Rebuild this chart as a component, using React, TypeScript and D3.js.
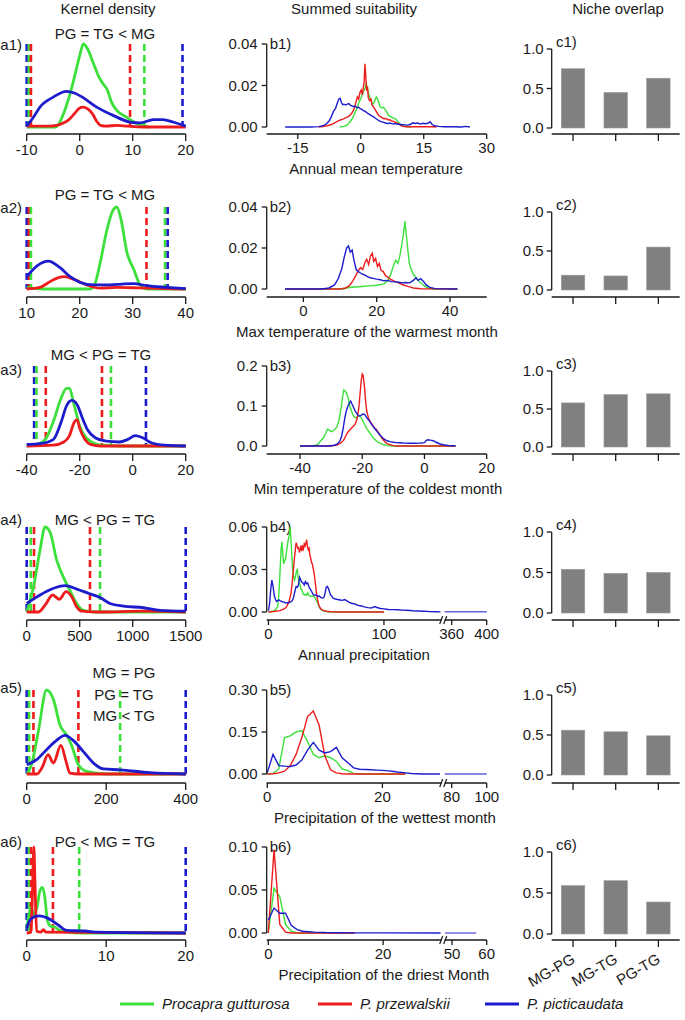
import React from "react";
import * as d3 from "d3";

type Pt = [number, number];

// ---------- labels ----------
const columnTitles = ["Kernel density", "Summed suitability", "Niche overlap"];
const speciesNames = ["Procapra gutturosa", "P. przewalskii", "P. picticaudata"];
const pairLabels = ["MG-PG", "MG-TG", "PG-TG"];
const variableNames = [
  "Annual mean temperature",
  "Max temperature of the warmest month",
  "Min temperature of the coldest month",
  "Annual precipitation",
  "Precipitation of the wettest month",
  "Precipitation of the driest Month",
];
const comparisons = [
  ["PG = TG < MG"],
  ["PG = TG < MG"],
  ["MG < PG = TG"],
  ["MG < PG = TG"],
  ["MG = PG", "PG = TG", "MG < TG"],
  ["PG < MG = TG"],
];

// ---------- kernel density (relative height) ----------
const aDomains: Pt[] = [[-10, 20], [10, 40], [-40, 20], [0, 1500], [0, 400], [0, 20]];
const aTicks = [[-10, 0, 10, 20], [10, 20, 30, 40], [-40, -20, 0, 20], [0, 500, 1000, 1500], [0, 200, 400], [0, 10, 20]];

const a1Green: Pt[] = [[-10, 0], [-4.6, 0], [-3.9, 0.04], [-3, 0.17], [-2, 0.36], [-1, 0.6], [0, 0.86], [0.7, 1.0], [1.5, 0.94], [2.5, 0.78], [3.5, 0.62], [4.4, 0.52], [5.2, 0.45], [6, 0.3], [7, 0.2], [8.5, 0.13], [10, 0.07], [11.5, 0.02], [13, 0]];
const a1Red: Pt[] = [[-10, 0.01], [-6, 0.01], [-4.3, 0.02], [-3, 0.05], [-2.2, 0.08], [-1, 0.16], [0, 0.23], [0.6, 0.24], [1.7, 0.21], [2.5, 0.15], [3.2, 0.07], [3.9, 0.02], [5, 0.01], [7, 0.02], [9, 0.01], [12, 0], [20, 0]];
const a1Blue: Pt[] = [[-10, 0.01], [-8.7, 0.12], [-7.5, 0.24], [-5, 0.36], [-2.5, 0.43], [-1, 0.41], [0.5, 0.36], [3.2, 0.24], [6.3, 0.14], [9.5, 0.06], [11.4, 0.05], [13.9, 0.09], [15.7, 0.09], [17.6, 0.06], [20, 0.01]];
const a1Limits: [string, number][] = [["blue", -10], ["green", -9.6], ["red", -9.2], ["red", 9.5], ["green", 12.2], ["blue", 19.4]];

const a2Green: Pt[] = [[10, 0.02], [11, 0.01], [13, 0], [22, 0], [22.8, 0.05], [23.8, 0.3], [25.1, 0.71], [26.2, 0.95], [27, 1.0], [27.8, 0.85], [28.9, 0.45], [30.2, 0.24], [31.4, 0.05], [32.6, 0], [40, 0]];
const a2Red: Pt[] = [[10, 0], [12.5, 0.02], [14.4, 0.09], [16, 0.14], [17.2, 0.15], [18.8, 0.12], [21.3, 0.05], [23.8, 0.01], [27, 0.02], [30, 0.015], [33, 0.01], [40, 0]];
const a2Blue: Pt[] = [[10, 0.15], [11.9, 0.28], [14.1, 0.34], [16.3, 0.26], [18.2, 0.15], [20.1, 0.08], [22.6, 0.05], [25.7, 0.05], [28, 0.06], [30.2, 0.066], [32.6, 0.04], [36.4, 0.02], [40, 0.005]];
const a2Limits: [string, number][] = [["blue", 10], ["red", 10.4], ["green", 10.8], ["red", 32.6], ["green", 36.1], ["blue", 36.6]];

const a3Green: Pt[] = [[-40, 0], [-36, 0.02], [-33, 0.08], [-30, 0.3], [-27, 0.6], [-25, 0.72], [-24, 0.72], [-22, 0.5], [-20, 0.25], [-18, 0.12], [-15, 0.04], [-12, 0.01], [-5, 0], [20, 0]];
const a3Red: Pt[] = [[-40, 0], [-30, 0.01], [-26, 0.05], [-24, 0.12], [-22, 0.3], [-21, 0.33], [-20, 0.22], [-18, 0.08], [-16, 0.02], [-12, 0], [20, 0]];
const a3Blue: Pt[] = [[-40, 0.02], [-35, 0.03], [-30, 0.08], [-27, 0.3], [-25, 0.5], [-23, 0.57], [-21, 0.52], [-19, 0.35], [-17, 0.2], [-14, 0.1], [-10, 0.06], [-5, 0.05], [-2, 0.08], [1, 0.13], [4, 0.1], [7, 0.04], [12, 0.01], [20, 0]];
const a3Limits: [string, number][] = [["blue", -37.2], ["green", -36.3], ["red", -32.8], ["red", -11.6], ["green", -8.2], ["blue", 5]];

const a4Green: Pt[] = [[0, 0], [15, 0.06], [63, 0.29], [126, 0.73], [173, 1.0], [220, 0.94], [283, 0.61], [346, 0.41], [409, 0.25], [472, 0.1], [535, 0.02], [650, 0], [1500, 0]];
const a4Red: Pt[] = [[0, 0], [110, 0], [173, 0.08], [245, 0.2], [308, 0.15], [371, 0.24], [425, 0.18], [472, 0.06], [519, 0.01], [700, 0], [1100, 0.01], [1500, 0]];
const a4Blue: Pt[] = [[0, 0.1], [126, 0.2], [236, 0.27], [362, 0.31], [472, 0.27], [582, 0.22], [692, 0.17], [786, 0.1], [912, 0.07], [1101, 0.05], [1258, 0.02], [1500, 0.01]];
const a4Limits: [string, number][] = [["blue", 0], ["green", 38], ["red", 69], ["red", 597], ["green", 692], ["blue", 1500]];

const a5Green: Pt[] = [[0, 0], [12, 0.11], [29, 0.5], [50, 1.0], [67, 0.89], [84, 0.58], [101, 0.46], [113, 0.34], [130, 0.11], [151, 0.03], [200, 0], [400, 0]];
const a5Red: Pt[] = [[0, 0], [25, 0], [38, 0.07], [54, 0.23], [67, 0.13], [86, 0.34], [99, 0.15], [109, 0.01], [130, 0], [400, 0]];
const a5Blue: Pt[] = [[0, 0.11], [25, 0.17], [50, 0.29], [75, 0.4], [96, 0.46], [117, 0.4], [142, 0.27], [168, 0.13], [193, 0.06], [235, 0.05], [310, 0.016], [400, 0]];
const a5Limits: [string, number][] = [["blue", 0], ["green", 6], ["red", 17], ["red", 130], ["green", 235], ["blue", 400]];

const a6Green: Pt[] = [[0, 0.05], [0.3, 0.22], [0.55, 0.3], [0.9, 0.2], [1.3, 0.3], [1.7, 0.5], [2.0, 0.53], [2.3, 0.4], [2.6, 0.15], [3.0, 0.08], [3.5, 0.07], [4.2, 0.03], [5, 0.01], [7, 0], [20, 0]];
const a6Red: Pt[] = [[0, 0], [0.55, 0.01], [0.75, 0.55], [0.9, 1.0], [1.05, 0.55], [1.25, 0.02], [1.8, 0.01], [2.1, 0.04], [2.4, 0.01], [20, 0]];
const a6Blue: Pt[] = [[0, 0.05], [0.4, 0.15], [1.0, 0.19], [1.6, 0.2], [2.7, 0.17], [4.0, 0.09], [5.0, 0.03], [7.3, 0.023], [9, 0.01], [20, 0]];
const a6Limits: [string, number][] = [["blue", 0], ["green", 0.3], ["red", 0.55], ["red", 3.3], ["green", 6.6], ["blue", 20]];

// ---------- summed suitability ----------
const b1Green: Pt[] = [[-5, 0], [-4, 0.0003], [-3.3, 0.0009], [-2.7, 0.0022], [-2.2, 0.0035], [-1.8, 0.0048], [-1.4, 0.0068], [-1.1, 0.0082], [-0.8, 0.0092], [-0.5, 0.0115], [-0.2, 0.0128], [0.1, 0.0142], [0.4, 0.016], [0.7, 0.0172], [1.0, 0.0185], [1.3, 0.021], [1.6, 0.0188], [1.9, 0.016], [2.2, 0.0142], [2.5, 0.0128], [2.8, 0.0108], [3.1, 0.0115], [3.4, 0.013], [3.7, 0.0145], [4, 0.0135], [4.3, 0.0118], [4.6, 0.0098], [5, 0.0092], [5.4, 0.0095], [5.8, 0.0085], [6.2, 0.0072], [6.6, 0.0056], [7, 0.0052], [7.5, 0.0045], [8, 0.0042], [8.5, 0.0035], [9, 0.0022], [9.5, 0.0012], [10, 0.0005], [11, 0.0001], [12, 0]];
const b1Red: Pt[] = [[-10, 0], [-9, 0.0002], [-8, 0.0006], [-7, 0.0012], [-6, 0.0022], [-5, 0.0033], [-4.5, 0.0036], [-4, 0.004], [-3.5, 0.0045], [-3, 0.005], [-2.6, 0.0056], [-2.2, 0.0065], [-1.8, 0.0078], [-1.4, 0.0098], [-1.1, 0.0125], [-0.8, 0.0145], [-0.5, 0.0135], [-0.2, 0.0165], [0.1, 0.0178], [0.4, 0.0155], [0.6, 0.019], [0.8, 0.0215], [1.0, 0.0305], [1.2, 0.0245], [1.4, 0.0175], [1.6, 0.0195], [1.8, 0.014], [2.1, 0.0128], [2.4, 0.0135], [2.7, 0.0105], [3, 0.0098], [3.4, 0.0085], [3.8, 0.0072], [4.2, 0.0058], [4.6, 0.005], [5, 0.0046], [5.5, 0.004], [6, 0.0041], [6.5, 0.0035], [7, 0.0034], [7.5, 0.0028], [8, 0.0026], [8.5, 0.002], [9, 0.0015], [9.5, 0.0008], [10, 0.0003], [11, 0.0001], [17, 0.0001], [18, 0]];
const b1Blue: Pt[] = [[-18, 0], [-12, 0], [-10, 0.0002], [-9, 0.0006], [-8.2, 0.0015], [-7.5, 0.003], [-7, 0.005], [-6.5, 0.0075], [-6, 0.009], [-5.6, 0.0115], [-5.2, 0.0135], [-4.9, 0.0138], [-4.6, 0.0118], [-4.3, 0.0108], [-4, 0.011], [-3.6, 0.0106], [-3.2, 0.011], [-2.8, 0.0113], [-2.5, 0.0105], [-2.1, 0.0102], [-1.7, 0.0098], [-1.3, 0.0101], [-0.9, 0.0093], [-0.5, 0.0095], [-0.1, 0.0088], [0.3, 0.0085], [0.7, 0.0078], [1.1, 0.0075], [1.5, 0.0068], [2, 0.0062], [2.5, 0.0055], [3, 0.005], [3.5, 0.0042], [4, 0.0035], [4.5, 0.0028], [5, 0.0025], [5.5, 0.0022], [6, 0.0018], [6.5, 0.0017], [7, 0.0019], [7.5, 0.0015], [8, 0.0016], [9, 0.0013], [10, 0.0011], [11, 0.0009], [11.8, 0.0012], [12.4, 0.002], [13, 0.0017], [13.6, 0.0019], [14.2, 0.0014], [14.8, 0.0018], [15.4, 0.0016], [16, 0.0018], [16.5, 0.0025], [17, 0.0012], [17.6, 0.0006], [18.5, 0.0003], [20, 0.0001], [22, 0.0001], [24, 0], [25, 0.0003], [26, 0]];

const b2Green: Pt[] = [[-5, 0], [11, 0], [12, 0.0006], [14, 0.001], [16, 0.0012], [18, 0.0015], [20, 0.0018], [22, 0.0025], [23, 0.004], [23.8, 0.007], [24.5, 0.011], [25.2, 0.014], [25.8, 0.0125], [26.3, 0.016], [26.8, 0.021], [27.3, 0.027], [27.7, 0.033], [28.1, 0.026], [28.5, 0.019], [28.9, 0.0125], [29.4, 0.0095], [30, 0.0072], [30.6, 0.006], [31.3, 0.0042], [32, 0.003], [33, 0.0015], [34, 0.0005], [36, 0], [42, 0]];
const b2Red: Pt[] = [[-5, 0], [10, 0], [11.5, 0.0005], [12.5, 0.0015], [13.5, 0.004], [14.3, 0.0065], [15, 0.009], [15.6, 0.0105], [16.2, 0.0095], [16.8, 0.013], [17.3, 0.0145], [17.8, 0.012], [18.3, 0.016], [18.8, 0.0175], [19.2, 0.0135], [19.7, 0.015], [20.2, 0.011], [20.7, 0.0125], [21.2, 0.009], [21.8, 0.0085], [22.4, 0.0065], [23, 0.0058], [23.7, 0.0048], [24.4, 0.0042], [25.2, 0.0035], [26, 0.003], [27, 0.0022], [28, 0.0015], [29, 0.001], [30, 0.0005], [32, 0.0001], [42, 0]];
const b2Blue: Pt[] = [[-5, 0], [5, 0], [7, 0.0005], [8.5, 0.002], [9.5, 0.005], [10.5, 0.01], [11.2, 0.016], [11.8, 0.02], [12.3, 0.021], [12.8, 0.018], [13.3, 0.019], [13.8, 0.014], [14.4, 0.0095], [15, 0.0085], [15.6, 0.0078], [16.2, 0.0072], [16.8, 0.0068], [17.5, 0.006], [18.2, 0.0055], [19, 0.0052], [20, 0.0048], [21, 0.0045], [22, 0.004], [23, 0.0042], [24, 0.0036], [25, 0.0035], [26, 0.0033], [27, 0.003], [28, 0.0032], [29, 0.003], [30, 0.0042], [30.7, 0.0055], [31.3, 0.0042], [32, 0.005], [32.7, 0.0038], [33.5, 0.002], [34.5, 0.0008], [36, 0.0002], [42, 0]];

const b3Green: Pt[] = [[-40, 0], [-36, 0.0005], [-35, 0.002], [-34, 0.006], [-33.5, 0.012], [-32.5, 0.02], [-31.8, 0.03], [-31.2, 0.042], [-30.6, 0.04], [-30, 0.036], [-29.4, 0.038], [-28.8, 0.042], [-28.2, 0.047], [-27.6, 0.06], [-27.1, 0.08], [-26.6, 0.105], [-26.2, 0.128], [-25.9, 0.14], [-25.5, 0.137], [-25, 0.132], [-24.5, 0.12], [-24, 0.1], [-23.5, 0.088], [-23, 0.078], [-22.5, 0.072], [-22, 0.07], [-21.5, 0.074], [-21, 0.076], [-20.5, 0.072], [-20, 0.066], [-19.5, 0.058], [-19, 0.05], [-18.5, 0.043], [-18, 0.037], [-17.5, 0.032], [-17, 0.026], [-16.5, 0.021], [-16, 0.017], [-15.5, 0.013], [-15, 0.01], [-14, 0.006], [-13, 0.003], [-12, 0.001], [-10, 0], [10, 0]];
const b3Red: Pt[] = [[-40, 0], [-30, 0], [-29, 0.001], [-28, 0.003], [-27, 0.007], [-26, 0.014], [-25.3, 0.025], [-24.6, 0.035], [-24, 0.04], [-23.4, 0.045], [-22.8, 0.05], [-22.2, 0.056], [-21.6, 0.07], [-21.1, 0.095], [-20.7, 0.13], [-20.3, 0.165], [-20, 0.18], [-19.7, 0.176], [-19.3, 0.15], [-18.9, 0.11], [-18.5, 0.085], [-18, 0.07], [-17.5, 0.062], [-17, 0.056], [-16.5, 0.05], [-16, 0.045], [-15.5, 0.042], [-15, 0.036], [-14.5, 0.03], [-14, 0.024], [-13.5, 0.018], [-13, 0.013], [-12.5, 0.009], [-12, 0.006], [-11, 0.003], [-10, 0.001], [-9, 0], [10, 0]];
const b3Blue: Pt[] = [[-40, 0], [-31, 0], [-29, 0.002], [-28, 0.005], [-27.2, 0.012], [-26.6, 0.025], [-26.1, 0.045], [-25.6, 0.07], [-25.1, 0.088], [-24.6, 0.1], [-24.1, 0.108], [-23.7, 0.112], [-23.3, 0.105], [-22.8, 0.097], [-22.3, 0.088], [-21.8, 0.082], [-21.3, 0.076], [-20.8, 0.075], [-20.3, 0.077], [-19.8, 0.08], [-19.3, 0.079], [-18.8, 0.074], [-18.3, 0.068], [-17.8, 0.064], [-17.3, 0.058], [-16.8, 0.052], [-16.3, 0.047], [-15.8, 0.042], [-15.2, 0.036], [-14.6, 0.03], [-14, 0.025], [-13.4, 0.02], [-12.7, 0.016], [-12, 0.013], [-11, 0.011], [-10, 0.0095], [-9, 0.0085], [-8, 0.008], [-7, 0.0075], [-6, 0.0072], [-5, 0.007], [-4, 0.0072], [-3, 0.007], [-2, 0.0072], [-1, 0.0075], [0, 0.0085], [0.6, 0.014], [1.2, 0.0155], [1.8, 0.0148], [2.4, 0.0142], [3, 0.0125], [3.6, 0.01], [4.3, 0.0075], [5, 0.005], [6, 0.003], [7, 0.002], [8, 0.001], [9, 0.0005], [10, 0]];

const b4Green: Pt[] = [[0, 0], [4, 0.0005], [6, 0.0015], [8, 0.004], [9, 0.012], [10, 0.028], [11, 0.045], [11.7, 0.0495], [12.5, 0.04], [13.2, 0.034], [14, 0.036], [14.8, 0.0375], [15.6, 0.042], [16.4, 0.047], [17.2, 0.051], [18, 0.054], [18.8, 0.06], [19.5, 0.052], [20.2, 0.04], [21, 0.03], [21.8, 0.025], [22.6, 0.0225], [23.4, 0.025], [24.2, 0.029], [25, 0.03], [25.8, 0.024], [26.6, 0.021], [27.4, 0.019], [28.2, 0.016], [29, 0.0155], [30, 0.013], [31, 0.012], [32, 0.0125], [33, 0.0118], [34, 0.0135], [35, 0.012], [36.5, 0.011], [38, 0.0112], [39.5, 0.0108], [41, 0.009], [42.5, 0.0065], [44, 0.0035], [45.5, 0.0018], [47, 0.001], [49, 0.0005], [52, 0.0002], [56, 0], [100, 0]];
const b4Red: Pt[] = [[0, 0], [6, 0.0005], [10, 0.001], [13, 0.002], [15, 0.003], [16.5, 0.005], [18, 0.008], [19.5, 0.013], [20.5, 0.02], [21.5, 0.029], [22.5, 0.038], [23.3, 0.044], [24, 0.049], [24.7, 0.047], [25.4, 0.045], [26.1, 0.0455], [26.8, 0.042], [27.5, 0.044], [28.2, 0.047], [28.9, 0.043], [29.6, 0.046], [30.3, 0.0445], [31, 0.048], [31.7, 0.0465], [32.4, 0.0485], [33.1, 0.051], [33.8, 0.046], [34.5, 0.044], [35.2, 0.045], [35.9, 0.04], [36.6, 0.038], [37.3, 0.035], [38, 0.034], [38.7, 0.031], [39.4, 0.028], [40.1, 0.024], [40.8, 0.019], [41.5, 0.014], [42.2, 0.01], [43, 0.007], [44, 0.004], [45, 0.0025], [46.5, 0.0015], [48, 0.001], [50, 0.0005], [54, 0.0002], [60, 0], [100, 0]];
const b4Blue: Pt[] = [[0, 0.001], [1, 0.006], [2, 0.016], [3, 0.0225], [4, 0.018], [5, 0.012], [6, 0.009], [7, 0.0075], [8, 0.0078], [9, 0.0085], [10, 0.008], [11, 0.0076], [12, 0.0072], [13, 0.007], [14, 0.0068], [15, 0.0064], [16, 0.0066], [17, 0.0062], [18, 0.0068], [19, 0.0072], [20, 0.0075], [21, 0.0085], [22, 0.011], [23, 0.015], [24, 0.018], [25, 0.0175], [26, 0.019], [27, 0.0245], [28, 0.0225], [29, 0.021], [30, 0.0205], [31, 0.019], [32, 0.0215], [33, 0.02], [34, 0.0205], [35, 0.018], [36, 0.0165], [37, 0.015], [38, 0.0135], [39, 0.012], [40, 0.0118], [41, 0.0122], [42, 0.0115], [43, 0.011], [44, 0.0112], [45, 0.0105], [46, 0.01], [47, 0.0098], [48, 0.0102], [49, 0.013], [50, 0.0175], [51, 0.018], [52, 0.0165], [53, 0.014], [54, 0.0118], [55, 0.011], [56, 0.0098], [58, 0.0092], [60, 0.0088], [62, 0.0085], [64, 0.0082], [66, 0.0088], [68, 0.0078], [70, 0.0068], [72, 0.0062], [74, 0.0058], [76, 0.0052], [78, 0.0046], [80, 0.0044], [83, 0.0036], [86, 0.0031], [89, 0.0028], [92, 0.0038], [94, 0.0032], [97, 0.0025], [100, 0.0022], [104, 0.0018], [108, 0.0017], [112, 0.0016], [116, 0.0013], [120, 0.0012], [125, 0.0009], [130, 0.0007], [135, 0.0005], [140, 0.0003], [145, 0.0002], [149, 0.0001], [352, 0.0002], [400, 0.0002]];

const b5Green: Pt[] = [[0, 0], [1, 0.002], [2, 0.018], [3, 0.13], [4, 0.136], [5, 0.15], [6, 0.155], [7, 0.115], [8, 0.07], [9, 0.058], [10, 0.065], [11, 0.058], [12, 0.045], [13, 0.018], [14, 0.012], [15, 0.002], [16, 0], [24, 0]];
const b5Red: Pt[] = [[0, 0], [1, 0.001], [2, 0.004], [3, 0.01], [4, 0.03], [5, 0.07], [6, 0.13], [7, 0.205], [8, 0.225], [9, 0.175], [10, 0.065], [11, 0.015], [12, 0.004], [13, 0.001], [14, 0], [24, 0]];
const b5Blue: Pt[] = [[0, 0.005], [1, 0.07], [2, 0.03], [3, 0.028], [4, 0.027], [5, 0.032], [6, 0.05], [7, 0.085], [8, 0.113], [9, 0.085], [10, 0.075], [11, 0.08], [12, 0.095], [13, 0.058], [14, 0.04], [15, 0.022], [16, 0.017], [17, 0.016], [18, 0.015], [19, 0.014], [20, 0.013], [21, 0.011], [22, 0.009], [23, 0.006], [24, 0.004], [25, 0.002], [26, 0.001], [27, 0], [30, 0], [76, 0], [100, 0]];

const b6Green: Pt[] = [[0, 0], [1, 0.052], [2, 0.042], [3, 0.01], [4, 0.002], [5, 0], [15, 0]];
const b6Red: Pt[] = [[0, 0], [1, 0.097], [2, 0.01], [3, 0.001], [4, 0], [15, 0]];
const b6Blue: Pt[] = [[0, 0.015], [1, 0.029], [2, 0.023], [3, 0.023], [4, 0.009], [5, 0.004], [6, 0.002], [7, 0.0015], [8, 0.001], [10, 0.0005], [15, 0.0002], [20, 0.0001], [30, 0], [48, 0], [57, 0]];

// ---------- niche overlap ----------
const c1Overlap = [0.75, 0.45, 0.63];
const c2Overlap = [0.19, 0.18, 0.55];
const c3Overlap = [0.58, 0.69, 0.7];
const c4Overlap = [0.54, 0.49, 0.5];
const c5Overlap = [0.56, 0.54, 0.49];
const c6Overlap = [0.59, 0.65, 0.39];

// ---------- layout ----------
const FONT = "'Liberation Sans', Arial, Helvetica, sans-serif";
const INK = "#1a1a1a";
const colorOf: Record<string, string> = { green: "#3be03b", red: "#ee1c1c", blue: "#1c1ccc" };

const rows = [
  { top: 44, zero: 127, axis: 134 },
  { top: 207, zero: 289, axis: 297 },
  { top: 366, zero: 446, axis: 454 },
  { top: 527, zero: 612, axis: 620 },
  { top: 690, zero: 774, axis: 783 },
  { top: 847, zero: 933, axis: 940 },
];
const A_X: Pt = [26.7, 185.7];
const B_X: Pt = [266.7, 486.7];
const B_BREAK: Pt = [441.7, 444.7];
const C_X: Pt = [551.7, 679.7];
const titleX = [376, 367, 378, 364, 385, 384];
const headDy = [-5, -7, -6, -2, -12, 0];
const tagDy = [6, 6, 9, -2, 3, 0];

const aPanels = [
  { green: a1Green, red: a1Red, blue: a1Blue, limits: a1Limits },
  { green: a2Green, red: a2Red, blue: a2Blue, limits: a2Limits },
  { green: a3Green, red: a3Red, blue: a3Blue, limits: a3Limits },
  { green: a4Green, red: a4Red, blue: a4Blue, limits: a4Limits },
  { green: a5Green, red: a5Red, blue: a5Blue, limits: a5Limits },
  { green: a6Green, red: a6Red, blue: a6Blue, limits: a6Limits },
];

const bPanels = [
  { green: b1Green, red: b1Red, blue: b1Blue, segs: [{ domain: [-22.4, 30], ticks: [-15, 0, 15, 30] }], yMax: 0.04, yTicks: [0, 0.02, 0.04], fmt: ".2f" },
  { green: b2Green, red: b2Red, blue: b2Blue, segs: [{ domain: [-10, 50], ticks: [0, 20, 40] }], yMax: 0.04, yTicks: [0, 0.02, 0.04], fmt: ".2f" },
  { green: b3Green, red: b3Red, blue: b3Blue, segs: [{ domain: [-50.7, 20], ticks: [-40, -20, 0, 20] }], yMax: 0.2, yTicks: [0, 0.1, 0.2], fmt: ".1f" },
  { green: b4Green, red: b4Red, blue: b4Blue, segs: [{ domain: [-1.5, 150], ticks: [0, 100] }, { domain: [352, 400], ticks: [360, 400] }], yMax: 0.06, yTicks: [0, 0.03, 0.06], fmt: ".2f" },
  { green: b5Green, red: b5Red, blue: b5Blue, segs: [{ domain: [-0.1, 30.3], ticks: [0, 20] }, { domain: [76, 100], ticks: [80, 100] }], yMax: 0.3, yTicks: [0, 0.15, 0.3], fmt: ".2f" },
  { green: b6Green, red: b6Red, blue: b6Blue, segs: [{ domain: [-0.28, 30.2], ticks: [0, 20] }, { domain: [47.9, 60], ticks: [50, 60] }], yMax: 0.1, yTicks: [0, 0.05, 0.1], fmt: ".2f" },
];

const cPanels = [c1Overlap, c2Overlap, c3Overlap, c4Overlap, c5Overlap, c6Overlap];

const txt = { fontFamily: FONT, fontSize: 15, fill: INK } as const;

function KernelPanel({ i }: { i: number }) {
  const p = aPanels[i];
  const r = rows[i];
  const x = d3.scaleLinear().domain(aDomains[i]).range(A_X);
  const y = d3.scaleLinear().domain([0, 1]).range([r.zero, r.top]);
  const line = d3.line<Pt>().x((d) => x(d[0])).y((d) => y(d[1])).curve(d3.curveMonotoneX);
  const lines = comparisons[i];
  const cx = lines.length > 1 ? 124 : i === 2 ? 101 : 105;
  return (
    <g>
      <text {...txt} x={22} y={r.top + tagDy[i]} textAnchor="end">{`a${i + 1})`}</text>
      {lines.map((s, k) => (
        <text key={k} {...txt} x={cx} y={r.top + headDy[i] + k * 21.5} textAnchor="middle">{s}</text>
      ))}
      {p.limits.map(([c, v], k) => (
        <line key={k} x1={x(v)} x2={x(v)} y1={r.top} y2={r.zero} stroke={colorOf[c]} strokeWidth={2.6} strokeDasharray="7 4" />
      ))}
      {(["green", "red", "blue"] as const).map((c) => (
        <path key={c} d={line(p[c]) || ""} fill="none" stroke={colorOf[c]} strokeWidth={2.8} strokeLinejoin="round" />
      ))}
      <line x1={A_X[0]} x2={A_X[1]} y1={r.axis} y2={r.axis} stroke={INK} strokeWidth={1.3} />
      {aTicks[i].map((t) => (
        <g key={t}>
          <line x1={x(t)} x2={x(t)} y1={r.axis} y2={r.axis + 7} stroke={INK} strokeWidth={1.3} />
          <text {...txt} x={x(t)} y={r.axis + 21} textAnchor="middle">{String(t)}</text>
        </g>
      ))}
    </g>
  );
}

function SuitabilityPanel({ i }: { i: number }) {
  const p = bPanels[i];
  const r = rows[i];
  const ranges: Pt[] = p.segs.length === 1 ? [B_X] : [[B_X[0], B_BREAK[0]], [B_BREAK[1], B_X[1]]];
  const xs = p.segs.map((s, k) => d3.scaleLinear().domain(s.domain).range(ranges[k]));
  const y = d3.scaleLinear().domain([0, p.yMax]).range([r.zero, r.top]);
  const fmt = d3.format(p.fmt);
  return (
    <g>
      <text {...txt} x={B_X[0] + 3} y={r.top + 5}>{`b${i + 1})`}</text>
      {(["green", "red", "blue"] as const).map((c) =>
        p.segs.map((s, k) => {
          const pts = p[c].filter((d) => d[0] >= s.domain[0] && d[0] <= s.domain[1]);
          if (pts.length < 2) return null;
          const line = d3.line<Pt>().x((d) => xs[k](d[0])).y((d) => y(d[1]));
          return <path key={c + k} d={line(pts) || ""} fill="none" stroke={colorOf[c]} strokeWidth={1.4} opacity={k === 1 ? 0.7 : 1} />;
        })
      )}
      <line x1={B_X[0]} x2={B_X[0]} y1={r.top} y2={r.zero} stroke={INK} strokeWidth={1.3} />
      {p.yTicks.map((t) => (
        <g key={t}>
          <line x1={B_X[0] - 5} x2={B_X[0]} y1={y(t)} y2={y(t)} stroke={INK} strokeWidth={1.3} />
          <text {...txt} x={B_X[0] - 9} y={y(t)} dy="0.35em" textAnchor="end">{fmt(t)}</text>
        </g>
      ))}
      {p.segs.map((s, k) => (
        <g key={k}>
          <line x1={ranges[k][0]} x2={ranges[k][1]} y1={r.axis} y2={r.axis} stroke={INK} strokeWidth={1.3} />
          {s.ticks.map((t) => (
            <g key={t}>
              <line x1={xs[k](t)} x2={xs[k](t)} y1={r.axis} y2={r.axis + 5} stroke={INK} strokeWidth={1.3} />
              <text {...txt} x={xs[k](t)} y={r.axis + 19} textAnchor="middle">{String(t)}</text>
            </g>
          ))}
        </g>
      ))}
      {p.segs.length > 1 && (
        <g stroke={INK} strokeWidth={1.2}>
          <line x1={B_BREAK[0] - 2} x2={B_BREAK[0] + 1} y1={r.axis + 4} y2={r.axis - 4} />
          <line x1={B_BREAK[1] - 1} x2={B_BREAK[1] + 2} y1={r.axis + 4} y2={r.axis - 4} />
        </g>
      )}
      <text {...txt} x={titleX[i]} y={r.axis + 40} textAnchor="middle">{variableNames[i]}</text>
    </g>
  );
}

function OverlapPanel({ i }: { i: number }) {
  const vals = cPanels[i];
  const r = rows[i];
  const x = d3.scaleBand<string>().domain(pairLabels).range(C_X).paddingInner(0.45).paddingOuter(0.225);
  const y = d3.scaleLinear().domain([0, 1]).range([r.zero + 1, r.top + 5]);
  const fmt = d3.format(".1f");
  return (
    <g>
      <text {...txt} x={556} y={r.top + 3}>{`c${i + 1})`}</text>
      {vals.map((v, k) => (
        <rect key={k} x={x(pairLabels[k])} y={y(v)} width={x.bandwidth()} height={y(0) - y(v)} fill="#808080" stroke="#9a9a9a" strokeWidth={0.6} />
      ))}
      <line x1={C_X[0]} x2={C_X[0]} y1={y(1)} y2={y(0)} stroke={INK} strokeWidth={1.3} />
      {[0, 0.5, 1].map((t) => (
        <g key={t}>
          <line x1={C_X[0] - 5} x2={C_X[0]} y1={y(t)} y2={y(t)} stroke={INK} strokeWidth={1.3} />
          <text {...txt} x={C_X[0] - 8} y={y(t)} dy="0.35em" textAnchor="end">{fmt(t)}</text>
        </g>
      ))}
      <line x1={C_X[0]} x2={C_X[1]} y1={r.axis} y2={r.axis} stroke={INK} strokeWidth={1.3} />
      {pairLabels.map((l) => {
        const cx = (x(l) as number) + x.bandwidth() / 2;
        return (
          <g key={l}>
            <line x1={cx} x2={cx} y1={r.axis} y2={r.axis + 7} stroke={INK} strokeWidth={1.3} />
            {i === 5 && (
              <text {...txt} textAnchor="end" transform={`translate(${cx + 3},${r.axis + 22}) rotate(-30)`}>{l}</text>
            )}
          </g>
        );
      })}
    </g>
  );
}

function Legend() {
  const items = [
    { c: "green", x: 120 },
    { c: "red", x: 318 },
    { c: "blue", x: 485 },
  ];
  return (
    <g>
      {items.map((it, k) => (
        <g key={k}>
          <line x1={it.x} x2={it.x + 34} y1={1004} y2={1004} stroke={colorOf[it.c]} strokeWidth={3} />
          <text {...txt} x={it.x + 42} y={1009} fontStyle="italic">{speciesNames[k]}</text>
        </g>
      ))}
    </g>
  );
}

export default function App() {
  return (
    <svg width={685} height={1020} style={{ position: "absolute", left: 0, top: 0, background: "#fff" }}>
      <text {...txt} x={108} y={14} textAnchor="middle">{columnTitles[0]}</text>
      <text {...txt} x={354} y={14} textAnchor="middle">{columnTitles[1]}</text>
      <text {...txt} x={618} y={14} textAnchor="middle">{columnTitles[2]}</text>
      {rows.map((_, i) => (
        <g key={i}>
          <KernelPanel i={i} />
          <SuitabilityPanel i={i} />
          <OverlapPanel i={i} />
        </g>
      ))}
      <Legend />
    </svg>
  );
}
